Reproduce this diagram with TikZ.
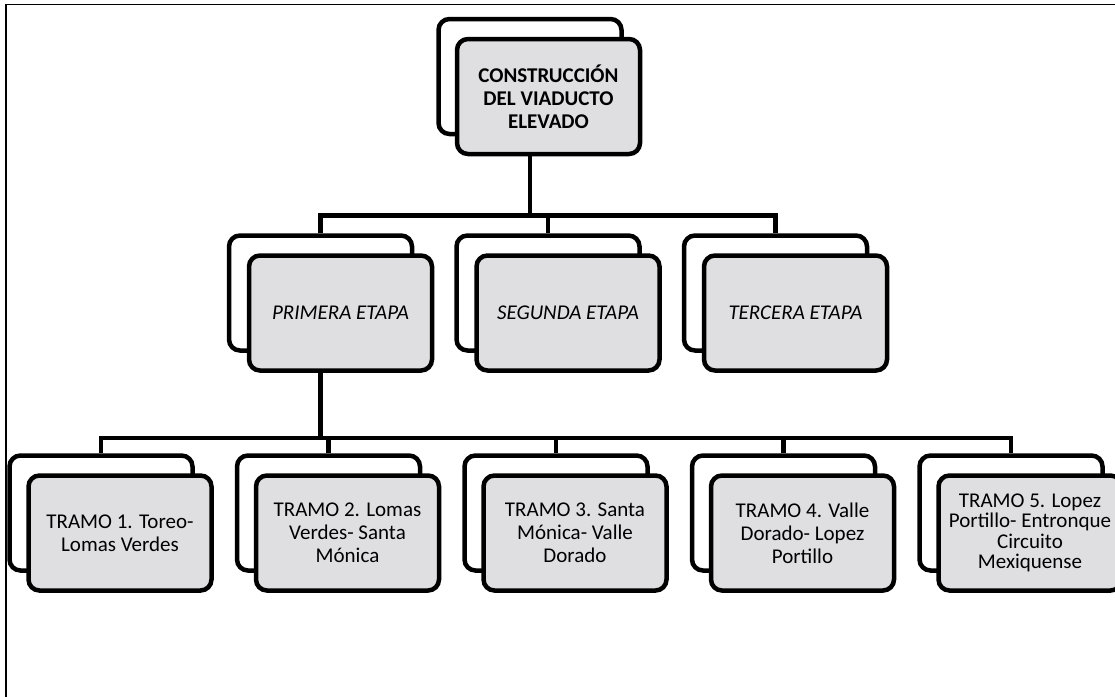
\documentclass[tikz,border=0pt]{standalone}
\usepackage{fontspec}
\setmainfont{Carlito}
\usepackage{tikz}
\usetikzlibrary{positioning}
\definecolor{marble}{RGB}{223,223,226}

\begin{document}
\begin{tikzpicture}[x=1pt,y=-1pt,node distance=227.5pt,
    back/.style={draw,line width=4.5pt,rounded corners=11pt,fill=white,
      minimum width=183pt,minimum height=115pt,inner sep=0pt},
    front/.style={back,fill=marble,align=center,font=\fontsize{21}{23}\selectfont},
    conn/.style={line width=4.5pt}]
  \useasboundingbox (0,0) rectangle (1115,696);
  \draw[line width=1.5pt] (6,4.5) rectangle (1140,720);

  % top
  \node[back] (rootB) at (530,76.5) {};
  \node[front,font=\bfseries\fontsize{21}{23}\selectfont] (root) at ([shift={(18.5,20)}]rootB)
    {CONSTRUCCIÓN\\DEL VIADUCTO\\ELEVADO};

  % etapas
  \node[back] (e1B) at (320.5,293) {};
  \node[back] (e2B) [right of=e1B] {};
  \node[back] (e3B) [right of=e2B] {};
  \node[front] (e1) at ([shift={(20,20)}]e1B) {\itshape PRIMERA ETAPA};
  \node[front] (e2) at ([shift={(20,20)}]e2B) {\itshape SEGUNDA ETAPA};
  \node[front] (e3) at ([shift={(20,20)}]e3B) {\itshape TERCERA ETAPA};

  % tramos
  \node[back] (t1B) at (101,513) {};
  \node[front] (t1) at ([shift={(19,20)}]t1B) {TRAMO 1. Toreo-\\Lomas Verdes};
  \node[back] (t2B) [right of=t1B] {};
  \node[front] (t2) at ([shift={(19,20)}]t2B) {TRAMO 2. Lomas\\Verdes- Santa\\Mónica};
  \node[back] (t3B) [right of=t2B] {};
  \node[front] (t3) at ([shift={(19,20)}]t3B) {TRAMO 3. Santa\\Mónica- Valle\\Dorado};
  \node[back] (t4B) [right of=t3B] {};
  \node[front] (t4) at ([shift={(19,20)}]t4B) {TRAMO 4. Valle\\Dorado- Lopez\\Portillo};
  \node[back] (t5B) [right of=t4B] {};
  \node[front,font=\fontsize{21}{20.5}\selectfont] (t5) at ([shift={(19,20)}]t5B)
    {TRAMO 5. Lopez\\Portillo- Entronque\\Circuito\\Mexiquense};

  \draw[conn] (rootB.center |- root.south) -- ++(0,59) -| (e1B.north);
  \draw[conn] (rootB.center |- root.south) -- ++(0,59) -| (e2B.north);
  \draw[conn] (rootB.center |- root.south) -- ++(0,59) -| (e3B.north);

  \draw[conn] (e1B.center |- e1.south) -- ++(0,65) -| (t1B.north);
  \draw[conn] (e1B.center |- e1.south) -- ++(0,65) -| (t2B.north);
  \draw[conn] (e1B.center |- e1.south) -- ++(0,65) -| (t3B.north);
  \draw[conn] (e1B.center |- e1.south) -- ++(0,65) -| (t4B.north);
  \draw[conn] (e1B.center |- e1.south) -- ++(0,65) -| (t5B.north);
\end{tikzpicture}
\end{document}
